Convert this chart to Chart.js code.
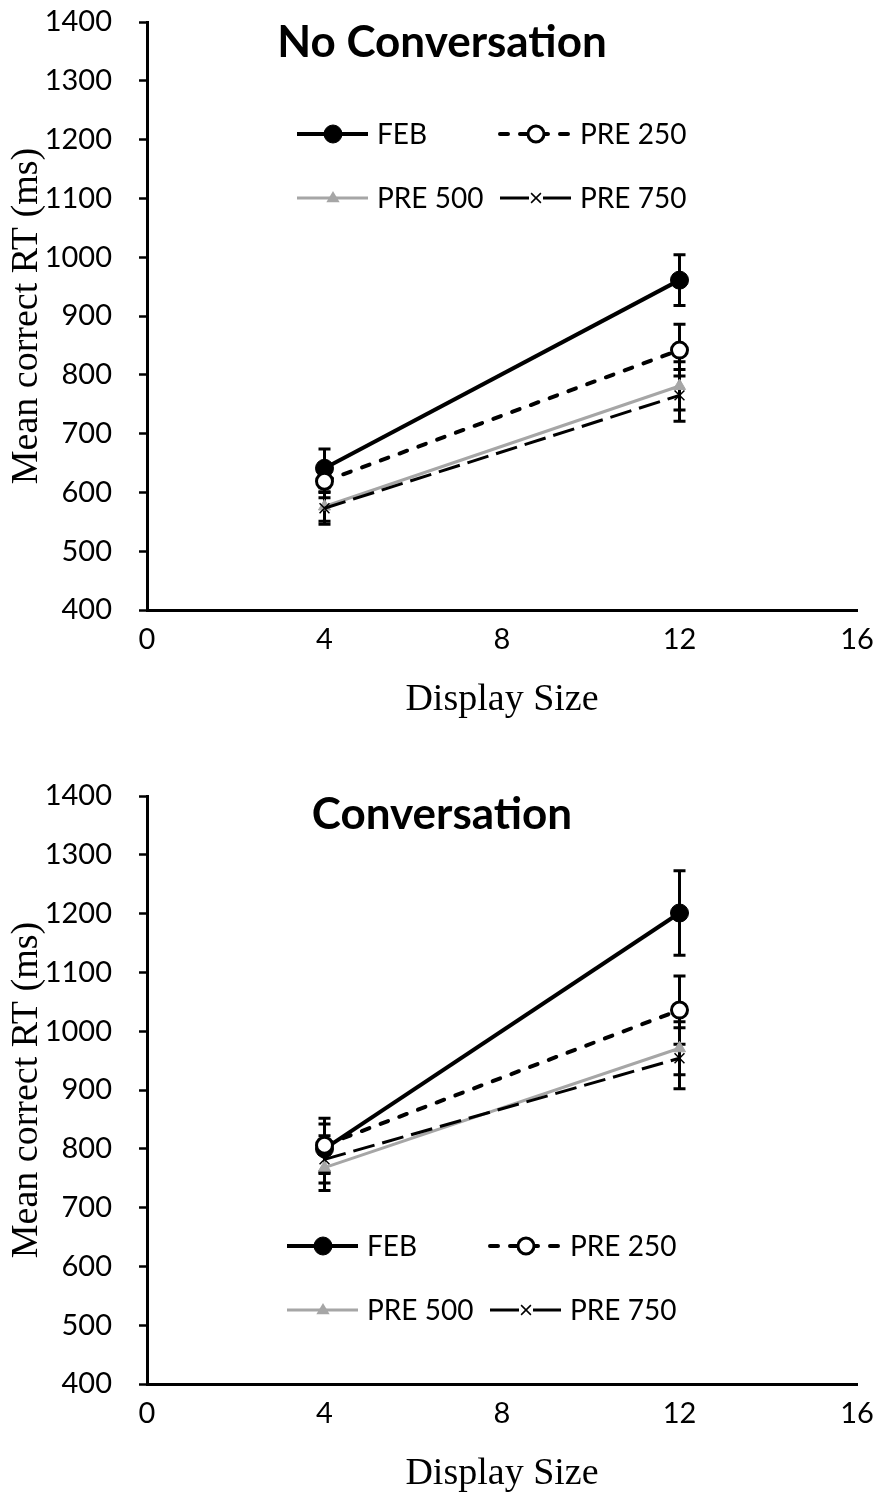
<!DOCTYPE html>
<html>
<head>
<meta charset="utf-8">
<script src="https://cdn.jsdelivr.net/npm/chart.js"></script>
<style>
    body { margin: 0; background: #fff; }
    .panel { position: absolute; left: 0; width: 874px; height: 721px; }
</style>
</head>
<body>
<div class="panel" style="top:0px"><canvas id="chart-top" width="874" height="721"></canvas></div>
<div class="panel" style="top:774px"><canvas id="chart-bottom" width="874" height="721"></canvas></div>
<script>
"use strict"
/*
    Mean correct RT by display size, two panels (No Conversation / Conversation).
    Error bars and the in-plot legend are drawn by small plugins using the chart scales.
 */

// data
let displaySizes = [4, 12]
let seriesNames = ['FEB', 'PRE 250', 'PRE 500', 'PRE 750']
let xTicks = [0, 4, 8, 12, 16]
let yTicks = [400, 500, 600, 700, 800, 900, 1000, 1100, 1200, 1300, 1400]

// no conversation
let noConvFEB = [641, 961]
let noConvPRE250 = [619, 842]
let noConvPRE500 = [576, 781]
let noConvPRE750 = [573, 765]
let noConvFEBErr = [33, 43]
let noConvPRE250Err = [28, 44]
let noConvPRE500Err = [25, 41]
let noConvPRE750Err = [27, 44]

// conversation
let convFEB = [800, 1201]
let convPRE250 = [806, 1036]
let convPRE500 = [768, 971]
let convPRE750 = [782, 954]
let convFEBErr = [42, 72]
let convPRE250Err = [46, 58]
let convPRE500Err = [39, 45]
let convPRE750Err = [40, 52]

const GREY = '#a6a6a6'
const TICK_FONT = 'Lato'

// series look (shared by both panels)
let seriesStyles = [
    { color: '#000', width: 4, dash: [], legendDash: [], cap: 'butt', point: 'circle', radius: 9, fill: '#000', pointBorder: 1 },
    { color: '#000', width: 4, dash: [8, 12], legendDash: [8, 12], cap: 'round', point: 'circle', radius: 8, fill: '#fff', pointBorder: 3 },
    { color: GREY, width: 3, dash: [], legendDash: [], cap: 'butt', point: 'triangle', radius: 7, fill: GREY, pointBorder: 1 },
    { color: '#000', width: 3, dash: [22, 8], legendDash: [], cap: 'butt', point: 'crossRot', radius: 7, fill: '#000', pointBorder: 1.5 }
]

function makeDataset(i, values, errors)
{
    let s = seriesStyles[i]
    let points = []
    for (let j = 0; j < displaySizes.length; j++)
    {
        points.push({ x: displaySizes[j], y: values[j] })
    }
    return {
        label: seriesNames[i],
        data: points,
        errors: errors,
        order: 4 - i,   // later series on top, like the original
        borderColor: s.color,
        borderWidth: s.width,
        borderDash: s.dash,
        borderCapStyle: s.cap,
        pointStyle: s.point,
        pointRadius: s.radius,
        pointBackgroundColor: s.fill,
        pointBorderColor: s.color,
        pointBorderWidth: s.pointBorder,
        fill: false,
        tension: 0
    }
}

// --------------------------------------------------------------------------------
// error bars (drawn before the lines so markers sit over them)
let errorBarPlugin = {
    id: 'errorBars',
    beforeDatasetsDraw(chart) {
        let ctx = chart.ctx
        let xs = chart.scales.x
        let ys = chart.scales.y
        ctx.save()
        ctx.strokeStyle = '#000'
        ctx.lineWidth = 3
        ctx.setLineDash([])
        chart.data.datasets.forEach(function(ds) {
            for (let j = 0; j < ds.data.length; j++)
            {
                let px = xs.getPixelForValue(ds.data[j].x)
                let top = ys.getPixelForValue(ds.data[j].y + ds.errors[j])
                let bot = ys.getPixelForValue(ds.data[j].y - ds.errors[j])
                ctx.beginPath()
                ctx.moveTo(px, top)
                ctx.lineTo(px, bot)
                ctx.moveTo(px - 6, top)
                ctx.lineTo(px + 6, top)
                ctx.moveTo(px - 6, bot)
                ctx.lineTo(px + 6, bot)
                ctx.stroke()
            }
        })
        ctx.restore()
    }
}

// --------------------------------------------------------------------------------
// marker used in the legend
function drawMarker(ctx, s, x, y)
{
    ctx.save()
    ctx.setLineDash([])
    ctx.fillStyle = s.fill
    ctx.strokeStyle = s.color
    ctx.lineWidth = s.pointBorder
    ctx.beginPath()
    if (s.point == 'circle')
    {
        ctx.arc(x, y, s.radius, 0, Math.PI * 2)
        ctx.fill()
        ctx.stroke()
    }
    else if (s.point == 'triangle')
    {
        let r = s.radius
        ctx.moveTo(x, y - r)
        ctx.lineTo(x + r * 0.95, y + r * 0.6)
        ctx.lineTo(x - r * 0.95, y + r * 0.6)
        ctx.closePath()
        ctx.fill()
    }
    else
    {
        // white gap round the cross, like the original legend
        ctx.fillStyle = '#fff'
        ctx.fillRect(x - 7, y - 4, 14, 8)
        let r = s.radius * 0.7
        ctx.beginPath()
        ctx.moveTo(x - r, y - r)
        ctx.lineTo(x + r, y + r)
        ctx.moveTo(x + r, y - r)
        ctx.lineTo(x - r, y + r)
        ctx.stroke()
    }
    ctx.restore()
}

// title + legend inside the plot area
function panelPlugin(title, titleY, legendX, legendY)
{
    return {
        id: 'panelText',
        afterDraw(chart) {
            let ctx = chart.ctx
            ctx.save()
            ctx.fillStyle = '#000'
            ctx.textAlign = 'center'
            ctx.textBaseline = 'middle'
            ctx.font = 'bold 44px Lato'
            ctx.fillText(title, 442, titleY)

            let cols = [legendX, legendX + 203]
            let rows = [legendY, legendY + 64]
            ctx.font = '28px ' + TICK_FONT
            ctx.textAlign = 'left'
            for (let i = 0; i < seriesNames.length; i++)
            {
                let s = seriesStyles[i]
                let x = cols[i % 2]
                let y = rows[Math.floor(i / 2)]
                ctx.save()
                ctx.strokeStyle = s.color
                ctx.lineWidth = s.width
                ctx.lineCap = s.cap
                ctx.setLineDash(s.legendDash)
                ctx.beginPath()
                ctx.moveTo(x, y)
                ctx.lineTo(x + 71, y)
                ctx.stroke()
                ctx.restore()
                drawMarker(ctx, s, x + 36, y)
                ctx.fillStyle = '#000'
                ctx.fillText(seriesNames[i], x + 80, y + 1)
            }
            ctx.restore()
        }
    }
}

function makeChart(canvasId, datasets, title, titleY, legendX, legendY)
{
    let ctx = document.getElementById(canvasId).getContext('2d')
    return new Chart(ctx, {
        type: 'line',
        data: { datasets: datasets },
        plugins: [errorBarPlugin, panelPlugin(title, titleY, legendX, legendY)],
        options: {
            responsive: false,
            animation: false,
            devicePixelRatio: 1,
            layout: { padding: 0 },
            plugins: {
                legend: { display: false },
                tooltip: { enabled: false },
                title: { display: false }
            },
            scales: {
                x: {
                    type: 'linear',
                    min: xTicks[0],
                    max: xTicks[xTicks.length - 1],
                    afterBuildTicks: function(scale) {
                        scale.ticks = xTicks.map(function(v) { return { value: v } })
                    },
                    afterFit: function(scale) {
                        scale.height = 111
                        scale.paddingLeft = 0
                        scale.paddingRight = 17
                    },
                    grid: { display: true, drawOnChartArea: false, drawTicks: false },
                    border: { display: true, color: '#000', width: 3 },
                    ticks: {
                        color: '#000',
                        padding: 12,
                        font: { family: TICK_FONT, size: 29 },
                        callback: function(v) { return String(v) }
                    },
                    title: {
                        display: true,
                        text: 'Display Size',
                        color: '#000',
                        padding: { top: 0, bottom: 0 },
                        font: { family: 'Liberation Serif', size: 38, lineHeight: 1.1 }
                    }
                },
                y: {
                    type: 'linear',
                    min: yTicks[0],
                    max: yTicks[yTicks.length - 1],
                    afterBuildTicks: function(scale) {
                        scale.ticks = yTicks.map(function(v) { return { value: v } })
                    },
                    afterFit: function(scale) {
                        scale.width = 147
                        scale.paddingTop = 22
                        scale.paddingBottom = 0
                    },
                    grid: {
                        display: true,
                        drawOnChartArea: false,
                        drawTicks: true,
                        tickLength: 8,
                        tickWidth: 2.5,
                        tickColor: '#000'
                    },
                    border: { display: true, color: '#000', width: 3 },
                    ticks: {
                        color: '#000',
                        padding: 27,
                        font: { family: TICK_FONT, size: 29 },
                        callback: function(v) { return String(v) }
                    },
                    title: {
                        display: true,
                        text: 'Mean correct RT (ms)',
                        color: '#000',
                        padding: { top: 4, bottom: 0 },
                        font: { family: 'Liberation Serif', size: 38 }
                    }
                }
            }
        }
    })
}

// --------------------------------------------------------------------------------
// build both panels
let topSets = [
    makeDataset(0, noConvFEB, noConvFEBErr),
    makeDataset(1, noConvPRE250, noConvPRE250Err),
    makeDataset(2, noConvPRE500, noConvPRE500Err),
    makeDataset(3, noConvPRE750, noConvPRE750Err)
]
let bottomSets = [
    makeDataset(0, convFEB, convFEBErr),
    makeDataset(1, convPRE250, convPRE250Err),
    makeDataset(2, convPRE500, convPRE500Err),
    makeDataset(3, convPRE750, convPRE750Err)
]

makeChart('chart-top', topSets, 'No Conversation', 43, 297, 134)
makeChart('chart-bottom', bottomSets, 'Conversation', 41, 287, 472)
</script>
</body>
</html>
